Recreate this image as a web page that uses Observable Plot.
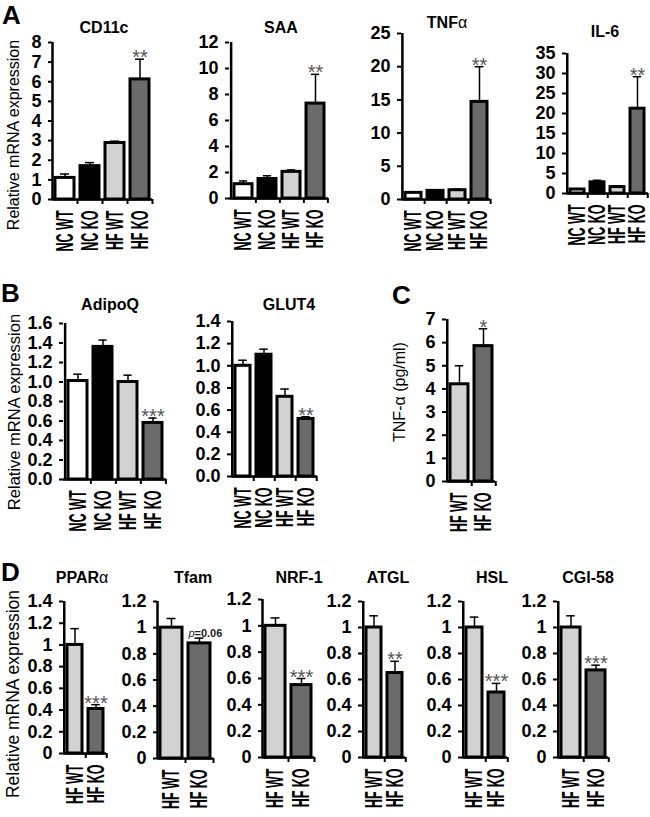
<!DOCTYPE html>
<html><head><meta charset="utf-8">
<script src="https://cdn.jsdelivr.net/npm/d3@7"></script>
<script src="https://cdn.jsdelivr.net/npm/@observablehq/plot@0.6"></script>
<style>
body{margin:0;background:#fff;}
#fig{position:relative;width:650px;height:817px;font-family:"Liberation Sans",Arial,sans-serif;overflow:hidden;background:#fff;}
.abs{position:absolute;white-space:nowrap;line-height:1;color:#000;}
.title{font-weight:bold;font-size:16px;transform:translate(-50%,-50%);}
.letter{font-weight:bold;font-size:26px;}
.ylab{font-size:16px;transform:translate(-50%,-50%) rotate(-90deg);color:#000;}
.gr{font-weight:normal;}
svg text.ytl{font-size:18px !important;font-weight:bold !important;fill:#000;}
</style></head><body><div id="fig"></div>
<script>
// ---- categories & colours ----
const groups4 = ["NC WT", "NC KO", "HF WT", "HF KO"];
const groups2 = ["HF WT", "HF KO"];
const colors4 = ["#ffffff", "#000000", "#d2d2d2", "#6b6b6b"];
const colors2 = ["#d2d2d2", "#6b6b6b"];

// ---- panel A ----
const cd11cMean = [1.1, 1.7, 2.88, 6.12];
const cd11cErr  = [1.3, 1.88, 2.97, 7.15];
const cd11cSig  = ["", "", "", "**"];
const cd11cTicks = [0, 1, 2, 3, 4, 5, 6, 7, 8];

const saaMean = [1.1, 1.5, 2.05, 7.3];
const saaErr  = [1.35, 1.75, 2.2, 9.55];
const saaSig  = ["", "", "", "**"];
const saaTicks = [0, 2, 4, 6, 8, 10, 12];

const tnfMean = [1.0, 1.3, 1.4, 14.7];
const tnfErr  = [1.15, 1.45, 1.55, 20.0];
const tnfSig  = ["", "", "", "**"];
const tnfTicks = [0, 5, 10, 15, 20, 25];

const il6Mean = [1.0, 2.8, 1.6, 21.2];
const il6Err  = [1.2, 3.3, 1.9, 29.2];
const il6Sig  = ["", "", "", "**"];
const il6Ticks = [0, 5, 10, 15, 20, 25, 30, 35];

// ---- panel B ----
const adipoqMean = [1.01, 1.36, 1.0, 0.58];
const adipoqErr  = [1.08, 1.43, 1.07, 0.63];
const adipoqSig  = ["", "", "", "***"];
const adipoqTicks = [0, 0.2, 0.4, 0.6, 0.8, 1.0, 1.2, 1.4, 1.6];

const glut4Mean = [1.0, 1.1, 0.72, 0.52];
const glut4Err  = [1.05, 1.15, 0.79, 0.54];
const glut4Sig  = ["", "", "", "**"];
const glut4Ticks = [0, 0.2, 0.4, 0.6, 0.8, 1.0, 1.2, 1.4];

// ---- panel C ----
const tnfProtMean = [4.2, 5.85];
const tnfProtErr  = [5.0, 6.6];
const tnfProtSig  = ["", "*"];
const tnfProtTicks = [0, 1, 2, 3, 4, 5, 6, 7];

// ---- panel D ----
const pparaMean = [1.0, 0.41];  const pparaErr = [1.15, 0.45];  const pparaSig = ["", "***"];
const tfamMean  = [1.0, 0.88];  const tfamErr  = [1.07, 0.92];  const tfamSig  = ["", ""];
const nrf1Mean  = [1.0, 0.55];  const nrf1Err  = [1.06, 0.60];  const nrf1Sig  = ["", "***"];
const atglMean  = [1.0, 0.65];  const atglErr  = [1.09, 0.74];  const atglSig  = ["", "**"];
const hslMean   = [1.0, 0.50];  const hslErr   = [1.08, 0.57];  const hslSig   = ["", "***"];
const cgiMean   = [1.0, 0.67];  const cgiErr   = [1.09, 0.71];  const cgiSig   = ["", "***"];
const pparaTicks = [0, 0.2, 0.4, 0.6, 0.8, 1, 1.2, 1.4];
const dTicks = [0, 0.2, 0.4, 0.6, 0.8, 1, 1.2];
const tfamNote = "=0.06";

const fmtInt = d3.format("d");
const fmt1 = d3.format(".1f");
const fmtGen = d => String(Math.round(d * 10) / 10);

const fig = document.getElementById("fig");

function drawChart(spec, lay) {
  const {cats, mean, err, sig, ticks, fmt, colors, note} = spec;
  const {x0, x1, yTop, y0} = lay;
  const max = ticks[ticks.length - 1];
  const n = cats.length, step = (x1 - x0) / n;
  const ml = 60, mr = 8, mt = 30, mb = 70;
  const data = cats.map((c, i) => ({cat: c, v: mean[i], e: err[i], s: sig[i]}));
  const capInset = (step - 9) / 2;
  const marks = [
    Plot.barY(data, {x: "cat", y: "v", fill: "cat", stroke: "#000", strokeWidth: 3, insetLeft: 3, insetRight: 3}),
    Plot.ruleX(data, {x: "cat", y1: "v", y2: "e", stroke: "#000", strokeWidth: 1.5}),
    Plot.tickY(data, {x: "cat", y: "e", stroke: "#000", strokeWidth: 1.5, insetLeft: capInset, insetRight: capInset}),
    Plot.text(data.filter(d => d.s), {x: "cat", y: "e", text: "s", lineAnchor: "bottom", dy: 5, fontSize: 20, fontWeight: "normal", fill: "#555"}),
    Plot.axisY({ticks, tickFormat: fmt, tickSize: 4, tickPadding: 7, strokeWidth: 2, label: null, fontSize: 18, fontWeight: "bold"}),
    Plot.axisX({tickSize: 5, tickFormat: () => "", dx: step / 2, strokeWidth: 2, label: null}),
    Plot.axisX({tickSize: 0, tickRotate: -90, tickPadding: 11, label: null}),
    Plot.ruleY([0], {stroke: "#000", strokeWidth: 2.5}),
    Plot.ruleX([cats[0]], {x: d => d, y1: 0, y2: max, dx: -step / 2, stroke: "#000", strokeWidth: 2.5})
  ];
  if (note) {
    const nd = [{cat: cats[1], e: err[1]}];
    marks.push(Plot.text(nd, {x: "cat", y: "e", text: () => "p", textAnchor: "start", dx: -11, dy: -5, fontSize: 11, fontWeight: "normal", fontStyle: "italic", fill: "#222"}));
    marks.push(Plot.text(nd, {x: "cat", y: "e", text: () => note, textAnchor: "start", dx: -5, dy: -5, fontSize: 11, fontWeight: "bold", fill: "#222"}));
  }
  const svg = Plot.plot({
    width: x1 - x0 + ml + mr,
    height: y0 - yTop + mt + mb,
    marginLeft: ml, marginRight: mr, marginTop: mt, marginBottom: mb,
    style: {background: "transparent", overflow: "visible", color: "#000", fontFamily: "'Liberation Sans', Arial, sans-serif"},
    x: {domain: cats, padding: 0},
    y: {domain: [0, max]},
    color: {domain: cats, range: colors},
    marks
  });
  svg.style.position = "absolute";
  svg.style.left = (x0 - ml) + "px";
  svg.style.top = (yTop - mt) + "px";
  fig.appendChild(svg);
  svg.querySelectorAll('g[aria-label="y-axis tick label"]').forEach(g => {
    g.setAttribute("font-size", "18"); g.setAttribute("font-weight", "bold");
    g.querySelectorAll("text").forEach(t => { t.classList.add("ytl"); t.setAttribute("font-size", "18"); t.style.fontSize = "18px"; t.style.fontWeight = "bold"; });
  });
  svg.querySelectorAll('g[aria-label="x-axis tick label"] text').forEach(t => {
    t.style.fontSize = "24px"; t.style.fontWeight = "bold"; t.style.fill = "#000";
    const L = t.getComputedTextLength();
    if (L > 0) { t.setAttribute("textLength", (L * 0.52).toFixed(1)); t.setAttribute("lengthAdjust", "spacingAndGlyphs"); }
  });
}

function addText(cls, html, x, y, extra) {
  const d = document.createElement("div");
  d.className = "abs " + cls;
  d.innerHTML = html;
  d.style.left = x + "px";
  d.style.top = y + "px";
  if (extra) Object.assign(d.style, extra);
  fig.appendChild(d);
}

// Panel A
drawChart({cats: groups4, mean: cd11cMean, err: cd11cErr, sig: cd11cSig, ticks: cd11cTicks, fmt: fmtInt, colors: colors4}, {x0: 52, x1: 152, yTop: 42, y0: 199});
drawChart({cats: groups4, mean: saaMean, err: saaErr, sig: saaSig, ticks: saaTicks, fmt: fmtInt, colors: colors4}, {x0: 229, x1: 328, yTop: 42, y0: 198});
drawChart({cats: groups4, mean: tnfMean, err: tnfErr, sig: tnfSig, ticks: tnfTicks, fmt: fmtInt, colors: colors4}, {x0: 401, x1: 490, yTop: 33, y0: 199});
drawChart({cats: groups4, mean: il6Mean, err: il6Err, sig: il6Sig, ticks: il6Ticks, fmt: fmtInt, colors: colors4}, {x0: 566, x1: 648, yTop: 53, y0: 193});
// Panel B
drawChart({cats: groups4, mean: adipoqMean, err: adipoqErr, sig: adipoqSig, ticks: adipoqTicks, fmt: fmt1, colors: colors4}, {x0: 63, x1: 166, yTop: 323, y0: 479});
drawChart({cats: groups4, mean: glut4Mean, err: glut4Err, sig: glut4Sig, ticks: glut4Ticks, fmt: fmt1, colors: colors4}, {x0: 231, x1: 317, yTop: 321, y0: 476});
// Panel C
drawChart({cats: groups2, mean: tnfProtMean, err: tnfProtErr, sig: tnfProtSig, ticks: tnfProtTicks, fmt: fmtInt, colors: colors2}, {x0: 446, x1: 495, yTop: 319, y0: 481});
// Panel D
drawChart({cats: groups2, mean: pparaMean, err: pparaErr, sig: pparaSig, ticks: pparaTicks, fmt: fmtGen, colors: colors2}, {x0: 63, x1: 106, yTop: 601, y0: 753});
drawChart({cats: groups2, mean: tfamMean, err: tfamErr, sig: tfamSig, ticks: dTicks, fmt: fmtGen, colors: colors2, note: tfamNote}, {x0: 157, x1: 213, yTop: 601, y0: 758});
drawChart({cats: groups2, mean: nrf1Mean, err: nrf1Err, sig: nrf1Sig, ticks: dTicks, fmt: fmtGen, colors: colors2}, {x0: 262, x1: 314, yTop: 599, y0: 757});
drawChart({cats: groups2, mean: atglMean, err: atglErr, sig: atglSig, ticks: dTicks, fmt: fmtGen, colors: colors2}, {x0: 362, x1: 405, yTop: 601, y0: 757});
drawChart({cats: groups2, mean: hslMean, err: hslErr, sig: hslSig, ticks: dTicks, fmt: fmtGen, colors: colors2}, {x0: 462, x1: 507, yTop: 601, y0: 757});
drawChart({cats: groups2, mean: cgiMean, err: cgiErr, sig: cgiSig, ticks: dTicks, fmt: fmtGen, colors: colors2}, {x0: 557, x1: 608, yTop: 601, y0: 757});

// Titles
addText("title", "CD11c", 104, 28);
addText("title", "SAA", 281, 28);
addText("title", "TNF<span class='gr'>α</span>", 447, 23);
addText("title", "IL-6", 605, 32);
addText("title", "AdipoQ", 110, 305);
addText("title", "GLUT4", 289, 305);
addText("title", "PPAR<span class='gr'>α</span>", 82, 578);
addText("title", "Tfam", 193, 578);
addText("title", "NRF-1", 299, 578);
addText("title", "ATGL", 388, 578);
addText("title", "HSL", 492, 578);
addText("title", "CGI-58", 588, 578);
// Panel letters
addText("letter", "A", 2, 1.5);
addText("letter", "B", 1, 280);
addText("letter", "C", 392, 282);
addText("letter", "D", 1, 559);
// Axis titles
addText("ylab", "Relative mRNA expression", 14, 135);
addText("ylab", "Relative mRNA expression", 14, 412, {fontSize: "16.5px"});
addText("ylab", "Relative mRNA expression", 14, 694, {fontSize: "17.5px"});
addText("ylab", "TNF-<span class='gr'>α</span> (pg/ml)", 400, 392);
</script></body></html>
